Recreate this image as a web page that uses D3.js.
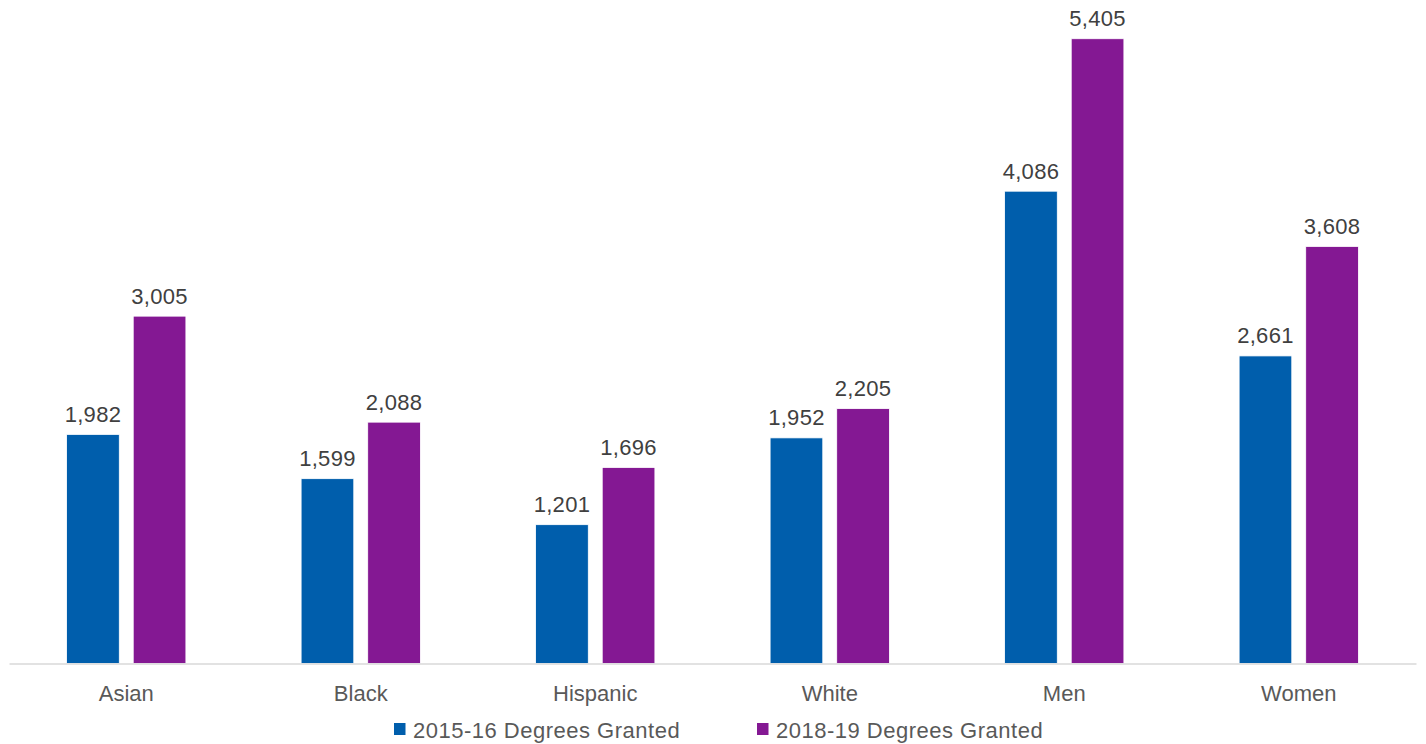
<!DOCTYPE html>
<html>
<head>
<meta charset="utf-8">
<script src="https://cdn.jsdelivr.net/npm/d3@7"></script>
<style>
  html, body { margin: 0; padding: 0; background: #fff; }
  svg { display: block; }
  text { font-family: "Liberation Sans", Arial, sans-serif; }
</style>
</head>
<body>
<svg id="chart" width="1426" height="744"></svg>
<script>
const categories = ["Asian", "Black", "Hispanic", "White", "Men", "Women"];
const seriesNames = ["2015-16 Degrees Granted", "2018-19 Degrees Granted"];
const values2015 = [1982, 1599, 1201, 1952, 4086, 2661];
const values2019 = [3005, 2088, 1696, 2205, 5405, 3608];
const colors = ["#005EAC", "#841893"];

const svg = d3.select("#chart");
const baseline = 663.5;

const x0 = d3.scaleBand().domain(categories).range([9, 1416]).padding(0);
const groupW = 119.3;
const x1 = d3.scaleBand().domain(seriesNames)
  .range([(x0.bandwidth() - groupW) / 2, (x0.bandwidth() + groupW) / 2])
  .paddingInner(0.209).paddingOuter(0);
const y = d3.scaleLinear().domain([0, 5740]).range([baseline, 0]);

const data = categories.map((c, i) => ({
  cat: c,
  vals: [
    { s: seriesNames[0], v: values2015[i], color: colors[0] },
    { s: seriesNames[1], v: values2019[i], color: colors[1] }
  ]
}));

const groups = svg.selectAll("g.grp").data(data).enter().append("g")
  .attr("class", "grp")
  .attr("transform", d => `translate(${x0(d.cat)},0)`);

groups.selectAll("rect").data(d => d.vals).enter().append("rect")
  .attr("x", d => x1(d.s))
  .attr("width", x1.bandwidth())
  .attr("y", d => y(d.v))
  .attr("height", d => baseline - y(d.v))
  .attr("fill", d => d.color)
  .attr("stroke", "#ffffff")
  .attr("stroke-width", 0.8);

groups.selectAll("text.val").data(d => d.vals).enter().append("text")
  .attr("class", "val")
  .attr("x", d => x1(d.s) + x1.bandwidth() / 2)
  .attr("y", d => y(d.v) - 12.5)
  .attr("text-anchor", "middle")
  .attr("font-size", 22)
  .attr("letter-spacing", 0.3)
  .attr("fill", "#404040")
  .text(d => d3.format(",")(d.v));

// x axis
const xAxis = d3.axisBottom(x0).tickSize(0).tickPadding(0);
const axisG = svg.append("g").attr("transform", `translate(0,${baseline})`).call(xAxis);
axisG.select(".domain").attr("stroke", "#d9d9d9").attr("stroke-width", 1.5);
axisG.selectAll(".tick text")
  .attr("font-size", 22)
  .attr("fill", "#595959")
  .attr("font-family", "Liberation Sans, Arial, sans-serif")
  .attr("dy", null)
  .attr("y", 37.5);

// legend
const legendX = [394, 757];
const leg = svg.selectAll("g.leg").data(seriesNames).enter().append("g")
  .attr("class", "leg")
  .attr("transform", (d, i) => `translate(${legendX[i]},0)`);
leg.append("rect").attr("x", 0).attr("y", 723).attr("width", 11.5).attr("height", 12)
  .attr("fill", (d, i) => colors[i]);
leg.append("text").attr("x", 19).attr("y", 737.5)
  .attr("font-size", 22).attr("letter-spacing", 0.5)
  .attr("fill", "#595959").text(d => d);
</script>
</body>
</html>
